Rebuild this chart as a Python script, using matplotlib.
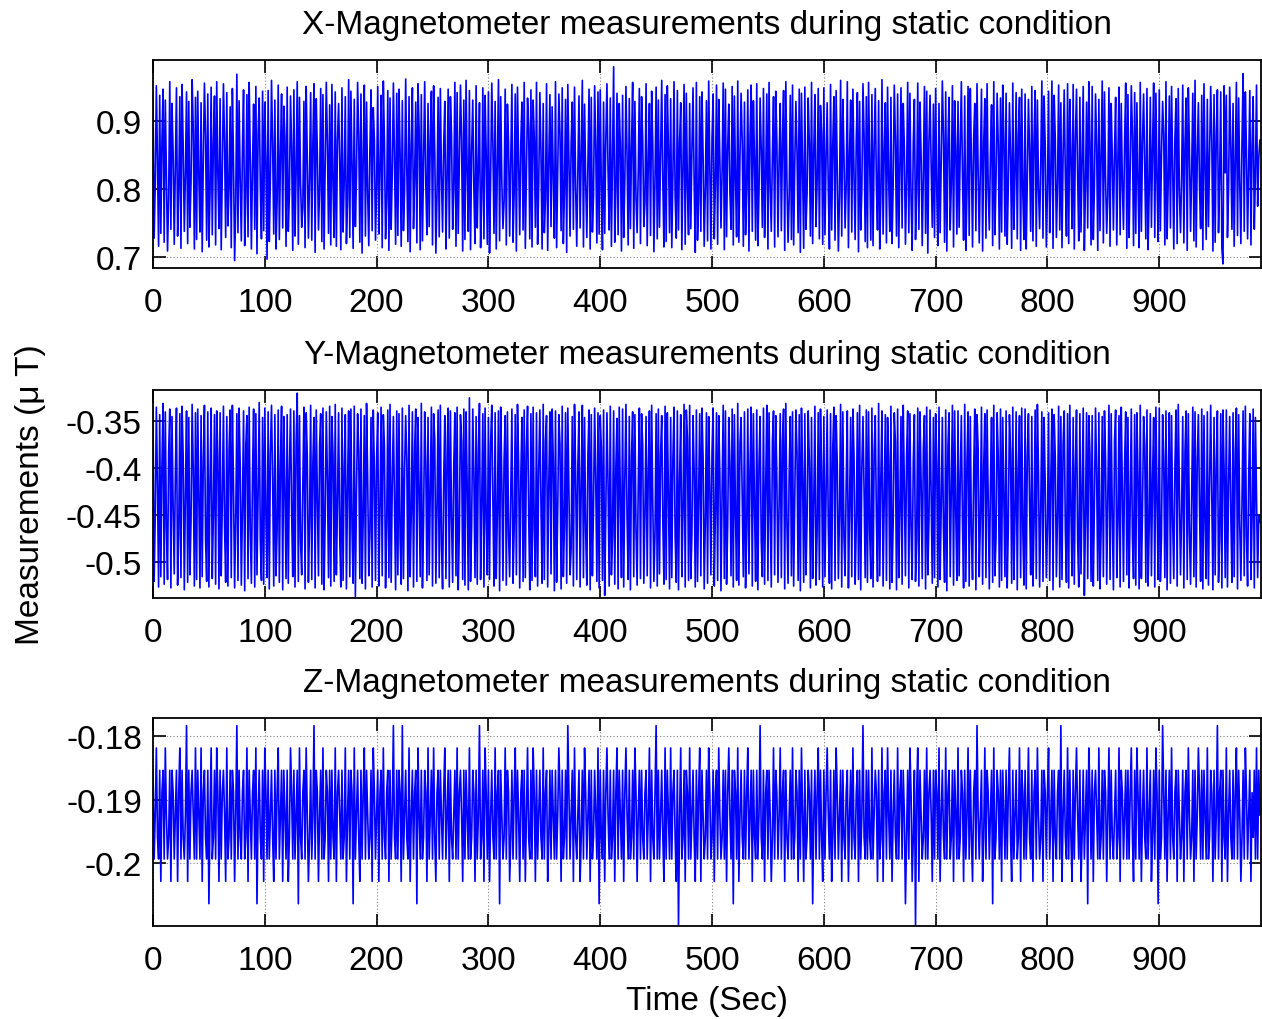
import matplotlib
matplotlib.use('Agg')
import matplotlib.pyplot as plt
import numpy as np

plt.rcParams['font.family'] = ['Liberation Sans', 'DejaVu Sans']

# X magnetometer, values in 1/1000 uT
X_MILLI = [
    941, 728, 806, 952, 843, 716, 938, 735, 872, 947, 722, 931, 815, 709, 786, 958, 741, 926, 853, 719,
    834, 949, 731, 797, 936, 713, 954, 862, 738, 822, 943, 720, 929, 744, 810, 961, 888, 712, 935, 726,
    944, 819, 737, 927, 708, 845, 956, 879, 725, 940, 715, 793, 950, 733, 868, 937, 718, 958, 824, 742,
    933, 711, 827, 955, 870, 729, 942, 746, 801, 921, 714, 948, 839, 695, 776, 969, 736, 930, 812, 724,
    859, 946, 717, 788, 939, 730, 957, 846, 712, 835, 925, 741, 951, 705, 880, 934, 803, 727, 944, 739,
    928, 841, 697, 945, 723, 818, 960, 867, 734, 931, 712, 782, 953, 726, 850, 940, 743, 922, 877, 716,
    950, 738, 792, 937, 861, 710, 946, 731, 825, 958, 719, 935, 808, 744, 773, 929, 714, 951, 846, 728,
    814, 942, 725, 869, 955, 707, 933, 852, 740, 799, 948, 723, 939, 712, 829, 957, 866, 735, 924, 718,
    954, 807, 729, 943, 716, 872, 926, 843, 711, 949, 737, 811, 936, 720, 785, 961, 729, 944, 836, 713,
    932, 745, 819, 957, 878, 722, 940, 706, 846, 953, 731, 928, 794, 717, 858, 946, 739, 920, 873, 725,
    801, 951, 734, 830, 938, 714, 959, 869, 727, 784, 945, 710, 934, 741, 823, 956, 845, 719, 941, 732,
    947, 853, 716, 930, 739, 797, 962, 828, 723, 936, 708, 866, 949, 742, 815, 928, 721, 955, 889, 711,
    939, 724, 839, 958, 807, 733, 926, 745, 874, 944, 718, 952, 857, 706, 792, 935, 730, 948, 821, 737,
    865, 929, 712, 814, 947, 728, 936, 880, 741, 803, 957, 716, 942, 735, 846, 953, 872, 709, 931, 726,
    960, 824, 738, 945, 711, 858, 931, 799, 720, 952, 743, 829, 927, 714, 787, 949, 727, 938, 855, 719,
    943, 706, 818, 956, 864, 735, 929, 712, 840, 961, 724, 936, 811, 742, 782, 947, 718, 925, 868, 731,
    848, 954, 722, 793, 940, 709, 950, 837, 733, 871, 928, 740, 957, 713, 820, 934, 889, 727, 946, 715,
    931, 876, 744, 957, 719, 806, 942, 853, 712, 926, 736, 784, 955, 710, 841, 939, 745, 921, 817, 728,
    958, 714, 831, 940, 882, 739, 949, 720, 798, 932, 707, 954, 846, 731, 869, 928, 741, 950, 805, 716,
    826, 937, 743, 857, 960, 715, 925, 811, 729, 842, 947, 712, 935, 737, 790, 952, 863, 721, 943, 734,
    946, 802, 711, 928, 735, 873, 955, 829, 740, 934, 716, 850, 980, 722, 796, 941, 733, 926, 864, 709,
    938, 729, 812, 951, 847, 718, 933, 742, 861, 957, 713, 929, 788, 736, 825, 948, 720, 936, 874, 745,
    781, 955, 717, 839, 926, 732, 944, 866, 708, 815, 950, 727, 931, 744, 853, 960, 808, 715, 939, 723,
    952, 861, 736, 933, 714, 822, 958, 791, 728, 945, 740, 868, 927, 711, 836, 954, 719, 941, 800, 733,
    926, 742, 857, 949, 813, 707, 957, 725, 781, 936, 738, 943, 849, 716, 801, 930, 724, 959, 832, 712,
    876, 940, 727, 808, 953, 719, 932, 845, 743, 827, 956, 711, 947, 730, 862, 925, 795, 741, 951, 718,
    937, 813, 730, 959, 722, 849, 941, 870, 716, 928, 733, 805, 946, 709, 877, 953, 738, 930, 842, 725,
    955, 717, 796, 934, 858, 744, 948, 729, 819, 940, 712, 957, 803, 738, 851, 936, 715, 944, 869, 730,
    843, 926, 739, 872, 945, 710, 958, 813, 722, 790, 938, 726, 953, 718, 838, 929, 854, 736, 947, 707,
    941, 827, 713, 950, 741, 794, 934, 868, 731, 957, 720, 855, 939, 745, 812, 948, 727, 923, 881, 719,
    949, 733, 845, 927, 799, 712, 954, 740, 866, 936, 725, 945, 828, 709, 789, 960, 731, 932, 850, 743,
    806, 958, 714, 851, 931, 737, 947, 820, 726, 873, 942, 708, 929, 740, 801, 955, 879, 723, 936, 714,
    957, 838, 725, 939, 717, 863, 948, 807, 740, 930, 712, 791, 961, 734, 855, 927, 721, 950, 814, 738,
    935, 720, 807, 953, 874, 731, 940, 714, 837, 949, 743, 926, 862, 719, 812, 957, 736, 941, 788, 710,
    869, 932, 726, 795, 956, 741, 928, 849, 717, 822, 951, 735, 944, 706, 870, 938, 833, 744, 925, 729,
    948, 798, 717, 926, 736, 841, 959, 880, 722, 943, 709, 867, 935, 740, 806, 952, 715, 930, 858, 734,
    929, 744, 862, 958, 819, 725, 937, 710, 793, 951, 732, 948, 843, 715, 874, 926, 739, 955, 827, 721,
    835, 947, 709, 868, 933, 728, 955, 802, 740, 851, 924, 717, 958, 733, 815, 941, 866, 712, 934, 737,
    953, 872, 731, 941, 719, 807, 927, 846, 713, 956, 741, 824, 942, 727, 879, 935, 710, 947, 792, 726,
    940, 712, 816, 932, 857, 738, 951, 724, 875, 945, 716, 931, 801, 742, 839, 959, 728, 937, 864, 715,
    797, 944, 736, 826, 959, 713, 938, 874, 729, 808, 953, 740, 927, 714, 853, 946, 818, 731, 955, 720,
    932, 845, 742, 954, 712, 876, 947, 819, 724, 935, 737, 839, 951, 710, 803, 928, 743, 958, 871, 718,
    951, 726, 803, 940, 866, 710, 932, 739, 852, 959, 721, 943, 814, 735, 792, 949, 716, 926, 847, 740,
    858, 935, 718, 844, 950, 733, 926, 807, 741, 869, 956, 713, 939, 729, 826, 952, 880, 717, 942, 735,
    927, 810, 714, 957, 738, 869, 940, 835, 727, 948, 711, 798, 935, 744, 861, 956, 729, 941, 812, 723,
    946, 739, 852, 929, 881, 718, 958, 727, 809, 937, 743, 951, 836, 712, 874, 933, 720, 948, 797, 736,
    817, 953, 721, 866, 934, 710, 949, 858, 738, 825, 941, 724, 960, 715, 847, 927, 805, 742, 938, 711,
    955, 833, 726, 932, 745, 852, 951, 871, 709, 939, 722, 880, 946, 736, 816, 943, 713, 690, 952, 824,
    938, 729, 798, 950, 862, 741, 926, 716, 843, 957, 732, 934, 807, 720, 869, 970, 738, 943, 855, 727,
    834, 945, 718, 862, 936, 741, 821, 953, 775, 846, 872,
]

# Y magnetometer, magnitudes in 1/1000 uT (all values are negative)
Y_MILLI = [
    338, 521, 452, 335, 418, 527, 343, 516, 397, 331, 524, 340, 463, 519, 384, 337, 528, 345, 441, 513,
    406, 336, 525, 471, 342, 517, 334, 389, 530, 427, 339, 522, 346, 514, 458, 332, 401, 526, 341, 519,
    337, 434, 528, 344, 516, 392, 333, 476, 521, 340, 527, 415, 336, 518, 449, 343, 524, 339, 387, 529,
    341, 515, 437, 334, 462, 522, 345, 526, 381, 338, 517, 333, 419, 528, 456, 342, 520, 336, 398, 525,
    443, 339, 531, 376, 344, 518, 335, 466, 523, 408, 337, 527, 342, 514, 429, 330, 478, 520, 346, 524,
    336, 451, 517, 340, 529, 384, 333, 413, 526, 343, 515, 467, 338, 522, 395, 334, 530, 345, 426, 518,
    343, 523, 404, 337, 447, 516, 339, 527, 372, 320, 521, 344, 479, 514, 418, 335, 529, 341, 388, 522,
    461, 333, 519, 394, 346, 528, 338, 433, 515, 376, 342, 524, 336, 530, 452, 340, 411, 517, 334, 526,
    345, 386, 521, 332, 514, 439, 341, 472, 527, 336, 520, 398, 343, 529, 421, 339, 516, 337, 465, 523,
    334, 537, 426, 342, 383, 518, 337, 523, 454, 344, 529, 331, 410, 515, 469, 346, 527, 338, 402, 520,
    390, 341, 526, 444, 335, 515, 343, 377, 528, 461, 338, 517, 332, 522, 416, 345, 437, 530, 339, 514,
    342, 474, 524, 336, 518, 405, 344, 391, 531, 333, 516, 448, 340, 527, 380, 337, 521, 346, 422, 516,
    331, 528, 457, 340, 395, 520, 346, 514, 428, 335, 526, 342, 369, 523, 441, 338, 517, 333, 481, 529,
    413, 344, 518, 385, 336, 527, 339, 452, 522, 398, 341, 515, 335, 530, 466, 343, 372, 519, 337, 525,
    340, 418, 530, 325, 521, 463, 337, 408, 517, 345, 524, 382, 331, 519, 437, 342, 527, 336, 456, 514,
    346, 519, 373, 333, 436, 526, 341, 518, 447, 339, 531, 335, 414, 520, 392, 344, 525, 340, 470, 516,
    425, 337, 523, 467, 343, 514, 332, 394, 528, 408, 346, 521, 338, 517, 379, 334, 449, 530, 342, 520,
    335, 463, 516, 341, 526, 402, 338, 439, 523, 332, 519, 371, 344, 527, 416, 340, 513, 337, 391, 531,
    339, 522, 444, 343, 375, 529, 334, 516, 461, 341, 523, 336, 428, 514, 486, 345, 526, 332, 405, 519,
    397, 340, 527, 421, 333, 517, 346, 468, 525, 384, 338, 530, 343, 515, 440, 336, 412, 521, 341, 528,
    344, 379, 520, 338, 536, 446, 341, 417, 526, 334, 514, 473, 339, 524, 398, 347, 529, 335, 432, 517,
    337, 527, 412, 332, 454, 519, 345, 530, 387, 340, 516, 343, 465, 525, 420, 336, 518, 342, 376, 523,
    448, 345, 515, 403, 339, 528, 333, 436, 521, 469, 342, 526, 337, 513, 385, 344, 458, 524, 334, 519,
    341, 426, 529, 346, 517, 390, 335, 473, 522, 339, 530, 411, 343, 516, 447, 332, 527, 338, 368, 520,
    333, 518, 471, 344, 402, 527, 338, 521, 433, 342, 515, 336, 389, 529, 457, 341, 523, 345, 418, 514,
    382, 336, 526, 449, 341, 520, 344, 407, 531, 426, 333, 518, 339, 524, 463, 346, 395, 515, 337, 527,
    343, 452, 520, 331, 525, 374, 346, 430, 516, 340, 528, 466, 337, 513, 401, 335, 526, 342, 441, 521,
    338, 530, 395, 345, 478, 516, 336, 524, 419, 333, 520, 341, 446, 527, 372, 339, 514, 344, 413, 522,
    437, 342, 517, 371, 337, 529, 331, 459, 523, 405, 345, 515, 340, 526, 428, 338, 384, 520, 343, 531,
    336, 409, 522, 342, 514, 455, 339, 392, 528, 346, 518, 437, 334, 525, 468, 341, 519, 337, 403, 527,
    345, 516, 427, 338, 463, 523, 342, 529, 378, 335, 520, 344, 395, 518, 450, 332, 527, 340, 474, 515,
    416, 339, 528, 443, 346, 516, 337, 388, 524, 461, 341, 519, 333, 530, 399, 345, 424, 517, 338, 522,
    340, 468, 518, 336, 527, 383, 344, 452, 521, 331, 515, 409, 339, 526, 436, 343, 520, 346, 391, 529,
    334, 522, 459, 341, 372, 530, 337, 517, 445, 345, 524, 333, 418, 515, 387, 339, 528, 342, 463, 519,
    393, 343, 521, 476, 336, 526, 340, 414, 518, 380, 344, 529, 335, 514, 457, 338, 431, 523, 346, 517,
    342, 397, 527, 335, 519, 441, 346, 467, 522, 338, 531, 376, 341, 516, 423, 333, 525, 339, 448, 520,
    339, 515, 412, 344, 458, 528, 332, 521, 393, 340, 526, 345, 471, 519, 406, 337, 530, 343, 379, 516,
    454, 335, 524, 398, 342, 517, 338, 436, 529, 417, 346, 522, 333, 515, 475, 341, 389, 527, 337, 520,
    346, 431, 516, 339, 528, 462, 343, 384, 523, 335, 519, 449, 340, 530, 402, 344, 517, 336, 470, 525,
    337, 529, 386, 342, 437, 514, 345, 526, 460, 338, 518, 332, 403, 527, 444, 340, 521, 346, 418, 517,
    464, 341, 520, 412, 337, 530, 343, 389, 516, 452, 334, 527, 345, 519, 374, 339, 466, 522, 342, 528,
    333, 445, 515, 346, 524, 397, 338, 478, 527, 342, 513, 421, 336, 536, 455, 341, 518, 344, 385, 521,
    344, 526, 438, 336, 406, 520, 341, 529, 465, 345, 516, 339, 392, 524, 427, 333, 519, 342, 451, 530,
    371, 338, 517, 458, 344, 527, 335, 422, 521, 396, 340, 514, 346, 528, 439, 337, 475, 518, 343, 525,
    341, 408, 529, 333, 518, 446, 345, 376, 522, 338, 526, 463, 342, 515, 412, 346, 527, 335, 433, 519,
    336, 521, 473, 343, 391, 517, 339, 530, 414, 341, 523, 344, 457, 518, 399, 338, 526, 332, 426, 514,
    447, 345, 528, 383, 339, 519, 342, 469, 524, 428, 335, 516, 340, 527, 391, 343, 440, 521, 337, 529,
    344, 461, 518, 340, 525, 417, 333, 432, 530, 346, 514, 395, 339, 522, 476, 342, 528, 338, 402, 517,
    338, 527, 419, 345, 448, 522, 341, 516, 384, 336, 529, 343, 461, 520, 437, 339, 515, 334, 472, 526,
    409, 342, 519, 455, 337, 528, 346, 433, 517, 451, 458,
]

# Z magnetometer is quantised; each digit picks one of these levels (uT)
Z_LEVELS = [-0.1784, -0.1819, -0.1854, -0.1889, -0.1924,
            -0.1959, -0.1993, -0.2028, -0.2063, -0.2098]
Z_CODES = (
    "26415627326146527236" "42731625640726324616" "24617325628416526137"
    "26324716526237406256" "32651724632618425627" "13626425726316427246"
    "27513626428156326147" "52640623742616523726" "25617324626517426238"
    "16425726316246527136" "42732615632726405626" "23706425617426328146"
    "26523716426157326246" "31642725642616324726" "24616523726406527136"
    "27425616328246516237" "52631624732627415626" "13726425616327526246"
    "26413726526036427156" "42752613642726524618" "25627314626527316246"
    "27314626526137426256" "32641725630626425716" "24616325729416527236"
    "16425726317246526136" "52732614652627314628" "23617425626316427256"
    "26405627326247516236" "41632725642616523726" "14726523628426316257"
    "26314627526136427256" "32742615632726405626" "25616423726517326146"
    "27425616326248526137" "52931724652616324726" "23617425616326527246"
    "16523726416257326046" "42751623642816523627" "24626315726426517236"
    "26415627326146527236" "31642725632607425616" "25726314627526428136"
    "27324616526237416256" "42651723642626315726" "13627425616427526138"
    "26503627426156327246" "52732614652726413626" "24616523726406327256"
    "17425626316247526136" "42735261624"
)

TITLES = ['X-Magnetometer measurements during static condition',
          'Y-Magnetometer measurements during static condition',
          'Z-Magnetometer measurements during static condition']
X_TICKS = list(range(0, 1000, 100))
Y_TICKS = [[0.7, 0.8, 0.9],
           [-0.5, -0.45, -0.4, -0.35],
           [-0.2, -0.19, -0.18]]
Y_TICKLABELS = [['0.7', '0.8', '0.9'],
                ['-0.5', '-0.45', '-0.4', '-0.35'],
                ['-0.2', '-0.19', '-0.18']]
Y_LIMS = [(0.684, 0.990), (-0.5388, -0.3166), (-0.2098, -0.1772)]

x_mag = np.array(X_MILLI) / 1000.0
y_mag = -np.array(Y_MILLI) / 1000.0
z_mag = np.array([Z_LEVELS[int(c)] for c in Z_CODES])
series = [x_mag, y_mag, z_mag]

W, H = 1262, 1020
fig = plt.figure(figsize=(W / 100, H / 100), dpi=100)

# axes boxes in pixels: (left, top, right, bottom)
boxes = [(153, 61, 1261, 269), (153, 391, 1261, 599), (153, 719, 1261, 927)]

axes = []
for i, (l, t, r, b) in enumerate(boxes):
    ax = fig.add_axes([l / W, (H - b) / H, (r - l) / W, (b - t) / H])
    vals = series[i]
    ax.plot(np.arange(len(vals)), vals, color='#0000ff', lw=1.2)
    ax.set_xlim(0, 991)
    ax.set_ylim(*Y_LIMS[i])
    ax.set_xticks(X_TICKS)
    ax.set_xticklabels([str(v) for v in X_TICKS])
    ax.set_yticks(Y_TICKS[i])
    ax.set_yticklabels(Y_TICKLABELS[i])
    ax.grid(True, color='#808080', linestyle=(0, (1, 2)), linewidth=0.8)
    ax.tick_params(direction='in', length=9, width=1.2, top=True, right=True,
                   labelsize=24, color='black')
    ax.tick_params(axis='x', pad=14)
    ax.tick_params(axis='y', pad=8)
    for sp in ax.spines.values():
        sp.set_linewidth(1.3)
    ax.set_title(TITLES[i], fontsize=24, pad=19.5)
    axes.append(ax)

axes[1].set_ylabel('Measurements (\u03bc T)', fontsize=24)
axes[1].yaxis.set_label_coords(-0.0966, 0.5)
axes[2].set_xlabel('Time (Sec)', fontsize=24)
axes[2].xaxis.set_label_coords(0.5, -0.285)

fig.savefig('out.png', dpi=100)
